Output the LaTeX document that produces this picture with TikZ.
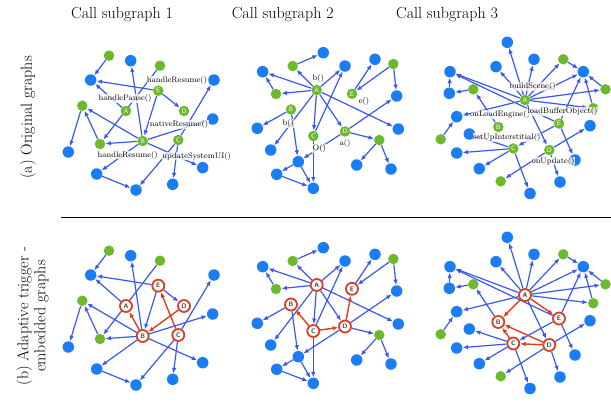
\documentclass[tikz,border=0pt]{standalone}
\usepackage{fontspec}
\usetikzlibrary{arrows.meta}

\definecolor{nodeblue}{HTML}{1A7DF5}
\definecolor{nodegreen}{HTML}{6CB92E}
\definecolor{edgeblue}{HTML}{3A58F0}
\definecolor{trigred}{HTML}{D8401F}

\pgfdeclarelayer{edges}
\pgfsetlayers{edges,main}

\tikzset{
    blue node/.style={circle, fill=nodeblue, minimum size=11.5pt, inner sep=0pt},
    green node/.style={circle, fill=nodegreen, minimum size=10.5pt, inner sep=0pt},
    call node/.style={circle, fill=nodegreen, minimum size=10.5pt, inner sep=0pt,
        text=white, font=\sffamily\fontsize{6.5}{6.5}\selectfont},
    trigger node/.style={circle, draw=trigred, line width=1.8pt, fill=white,
        minimum size=12pt, inner sep=0pt, text=black!75,
        font=\sffamily\bfseries\fontsize{6.5}{6.5}\selectfont},
    edge/.style={-{Latex[length=5.5pt,width=4.5pt]}, draw=edgeblue, line width=1.2pt},
    trigger edge/.style={edge, draw=trigred, line width=1.4pt},
    fname/.style={font=\fontsize{8}{8}\selectfont, fill=white, fill opacity=0.75,
        text opacity=1, inner sep=0.4pt},
    heading/.style={font=\fontsize{16}{17}\selectfont},
}

% call subgraph 1, #1 = style of the call nodes
\newcommand\callgraphone[1]{
    % leaves
    \node[green node] (g1) at (109,55.7) {};
    \node[blue node] (b1) at (130.7,60.7) {};
    \node[green node] (g2) at (160,65.7) {};
    \node[blue node] (b2) at (90.7,80) {};
    \node[blue node] (b3) at (214,80) {};
    \node[green node] (g3) at (82.3,105.7) {};
    \node[blue node] (b4) at (212.7,119) {};
    \node[green node] (g4) at (100,144) {};
    \node[blue node] (b5) at (68.3,152) {};
    \node[blue node] (b6) at (96.7,174) {};
    \node[blue node] (b7) at (202.7,167.7) {};
    \node[blue node] (b8) at (172.7,184.3) {};
    \node[blue node] (b9) at (136,190) {};
    % call nodes
    \node[#1] (A) at (126,111) {A};
    \node[#1] (B) at (142.7,141) {B};
    \node[#1] (C) at (178.3,140) {C};
    \node[#1] (D) at (184,111) {D};
    \node[#1] (E) at (158.3,90.7) {E};
    \begin{pgfonlayer}{edges}
        \draw[edge] (g1) -- (b2);
        \draw[edge] (E) -- (b2);
        \draw[edge] (A) -- (b2);
        \draw[edge] (B) -- (b1);
        \draw[edge] (g2) -- (g4);
        \draw[edge] (E) -- (D);
        \draw[edge] (E) -- (B);
        \draw[edge] (C) -- (b3);
        \draw[edge] (B) -- (g3);
        \draw[edge] (g4) -- (g3);
        \draw[edge] (g3) -- (b5);
        \draw[edge] (B) -- (g4);
        \draw[edge] (B) -- (b4);
        \draw[edge] (B) -- (b7);
        \draw[edge] (B) -- (b6);
        \draw[edge] (b6) -- (b9);
        \draw[edge] (C) -- (b9);
        \draw[edge] (C) -- (b8);
    \end{pgfonlayer}
}

% call subgraph 2
\newcommand\callgraphtwo[1]{
    % leaves
    \node[blue node] (b1) at (323.3,52.7) {};
    \node[green node] (g1) at (292.7,66) {};
    \node[blue node] (b2) at (262.7,71.7) {};
    \node[blue node] (b3) at (345,66) {};
    \node[blue node] (b4) at (375,59.3) {};
    \node[green node] (g2) at (393.3,64) {};
    \node[green node] (g3) at (276,94) {};
    \node[blue node] (b5) at (396.7,96) {};
    \node[blue node] (b6) at (257.3,128.3) {};
    \node[blue node] (b7) at (398.3,129) {};
    \node[green node] (g4) at (379.3,140) {};
    \node[blue node] (b8) at (270.7,150) {};
    \node[blue node] (b9) at (298.3,161.7) {};
    \node[blue node] (b10) at (356.7,165) {};
    \node[blue node] (b11) at (391,169) {};
    \node[blue node] (b12) at (276.7,174.3) {};
    \node[blue node] (b13) at (313.3,188.3) {};
    % call nodes
    \node[#1] (A) at (316.7,90) {A};
    \node[#1] (B) at (291,109.5) {B};
    \node[#1] (C) at (313.3,136) {C};
    \node[#1] (D) at (345,131.5) {D};
    \node[#1] (E) at (352,93.8) {E};
    \begin{pgfonlayer}{edges}
        \draw[edge] (g1) -- (b1);
        \draw[edge] (A) -- (g1);
        \draw[edge] (A) -- (b2);
        \draw[edge] (g3) -- (b2);
        \draw[edge] (A) -- (g3);
        \draw[edge] (A) -- (b3);
        \draw[edge] (C) -- (b3);
        \draw[edge] (A) -- (C);
        \draw[edge] (A) -- (D);
        \draw[edge] (A) -- (b7);
        \draw[edge] (A) -- (b8);
        \draw[edge] (B) -- (b6);
        \draw[edge] (B) -- (b9);
        \draw[edge] (C) -- (b13);
        \draw[edge] (D) -- (b9);
        \draw[edge] (D) -- (b5);
        \draw[edge] (D) -- (g4);
        \draw[edge] (g4) -- (b10);
        \draw[edge] (g4) -- (b11);
        \draw[edge] (E) -- (b4);
        \draw[edge] (g2) -- (E);
        \draw[edge] (g2) -- (b5);
        \draw[edge] (b9) -- (b12);
        \draw[edge] (b9) -- (b13);
        \draw[edge] (b12) -- (b13);
    \end{pgfonlayer}
}

% call subgraph 3
\newcommand\callgraphthree[1]{
    % leaves
    \node[blue node] (b1) at (507.3,42.3) {};
    \node[blue node] (b2) at (534,59.3) {};
    \node[green node] (g1) at (563.3,59.3) {};
    \node[blue node] (b3) at (496,66.7) {};
    \node[blue node] (b4) at (450,71.7) {};
    \node[blue node] (b5) at (583.3,71.7) {};
    \node[blue node] (b6) at (449.3,93.3) {};
    \node[green node] (g2) at (473.3,89.3) {};
    \node[green node] (g3) at (605.5,89.3) {};
    \node[green node] (g4) at (593.3,108.3) {};
    \node[blue node] (b7) at (456.7,116.7) {};
    \node[blue node] (b8) at (590,125.7) {};
    \node[green node] (g5) at (440.7,139.3) {};
    \node[blue node] (b9) at (469.3,134) {};
    \node[blue node] (b10) at (456.7,153) {};
    \node[blue node] (b11) at (575,160) {};
    \node[blue node] (b12) at (479.3,168.7) {};
    \node[blue node] (b13) at (560,182) {};
    \node[green node] (g6) at (500.7,181.3) {};
    \node[blue node] (b14) at (530,193.5) {};
    % call nodes
    \node[#1] (A) at (525,100) {A};
    \node[#1] (B) at (498.3,127) {B};
    \node[#1] (C) at (513.3,148.5) {C};
    \node[#1] (D) at (549.3,150) {D};
    \node[#1] (E) at (559,123.5) {E};
    \begin{pgfonlayer}{edges}
        \draw[edge] (A) -- (b1);
        \draw[edge] (A) -- (b2);
        \draw[edge] (A) -- (b3);
        \draw[edge] (A) -- (g1);
        \draw[edge] (A) -- (b5);
        \draw[edge] (A) -- (g3);
        \draw[edge] (A) -- (g4);
        \draw[edge] (A) -- (b4);
        \draw[edge] (A) -- (b7);
        \draw[edge] (A) -- (D);
        \draw[edge] (E) -- (b4);
        \draw[edge] (E) -- (C);
        \draw[edge] (E) -- (b5);
        \draw[edge] (E) -- (b11);
        \draw[edge] (g1) -- (b5);
        \draw[edge] (g3) -- (b5);
        \draw[edge] (g4) -- (b5);
        \draw[edge] (g2) -- (b6);
        \draw[edge] (b6) -- (b4);
        \draw[edge] (B) -- (g2);
        \draw[edge] (g5) -- (b7);
        \draw[edge] (C) -- (b9);
        \draw[edge] (C) -- (b10);
        \draw[edge] (C) -- (b12);
        \draw[edge] (C) -- (b14);
        \draw[edge] (D) -- (b8);
        \draw[edge] (D) -- (g6);
        \draw[edge] (D) -- (b13);
    \end{pgfonlayer}
}

\begin{document}
\begin{tikzpicture}[x=1pt,y=-1pt]
    \useasboundingbox (0,0) rectangle (611,413);

    % Spaltentitel
    \node[heading] (title1) at (122,15) {Call subgraph 1};
    \node[heading] (title2) at (282.7,15) {Call subgraph 2};
    \node[heading] (title3) at (447,15) {Call subgraph 3};

    % Zeilentitel
    \node[heading, rotate=90] (rowa) at (28,117.5) {(a) Original graphs};
    \node[heading, rotate=90, align=center] (rowb) at (32.5,316) {(b) Adaptive trigger -\\embedded graphs};

    % Trennlinie
    \coordinate (sepl) at (61,217.5);
    \coordinate (sepr) at (611,217.5);
    \draw[line width=0.8pt] (sepl) -- (sepr);

    % (a) Original graphs
    \callgraphone{call node}
    \node[fname] (f11) at (177,80.7) {handleResume()};
    \node[fname] (f12) at (125,98.3) {handlePause()};
    \node[fname] (f13) at (179,124.3) {nativeResume()};
    \node[fname] (f14) at (127.7,155) {handleResume()};
    \node[fname] (f15) at (196.7,156) {updateSystemUI()};

    \callgraphtwo{call node}
    \node[fname] (f21) at (318.3,78.3) {b()};
    \node[fname] (f22) at (288.3,123.3) {b()};
    \node[fname] (f23) at (319.3,148.3) {O()};
    \node[fname] (f24) at (345,143.3) {a()};
    \node[fname] (f25) at (364,101.7) {e()};

    \callgraphthree{call node}
    \node[fname] (f31) at (532.5,86.7) {buildScene()};
    \node[fname] (f32) at (500,114.3) {onLoadEngine()};
    \node[fname] (f33) at (562.5,111.7) {loadBufferObject()};
    \node[fname] (f34) at (506.7,137.3) {setUpInterstitial()};
    \node[fname] (f35) at (553,161) {onUpdate()};

    % (b) Adaptive trigger-embedded graphs
    \begin{scope}[yshift=-195pt]
        \callgraphone{trigger node}
        \begin{pgfonlayer}{edges}
            \draw[trigger edge] (B) -- (A);
            \draw[trigger edge] (D) -- (B);
            \draw[trigger edge] (C) -- (E);
        \end{pgfonlayer}

        \callgraphtwo{trigger node}
        \begin{pgfonlayer}{edges}
            \draw[trigger edge] (C) -- (B);
            \draw[trigger edge] (C) -- (D);
            \draw[trigger edge] (D) -- (E);
        \end{pgfonlayer}

        \callgraphthree{trigger node}
        \begin{pgfonlayer}{edges}
            \draw[trigger edge] (A) -- (B);
            \draw[trigger edge] (A) -- (E);
            \draw[trigger edge] (C) -- (B);
            \draw[trigger edge] (D) -- (C);
            \draw[trigger edge] (D) -- (B);
        \end{pgfonlayer}
    \end{scope}
\end{tikzpicture}
\end{document}
